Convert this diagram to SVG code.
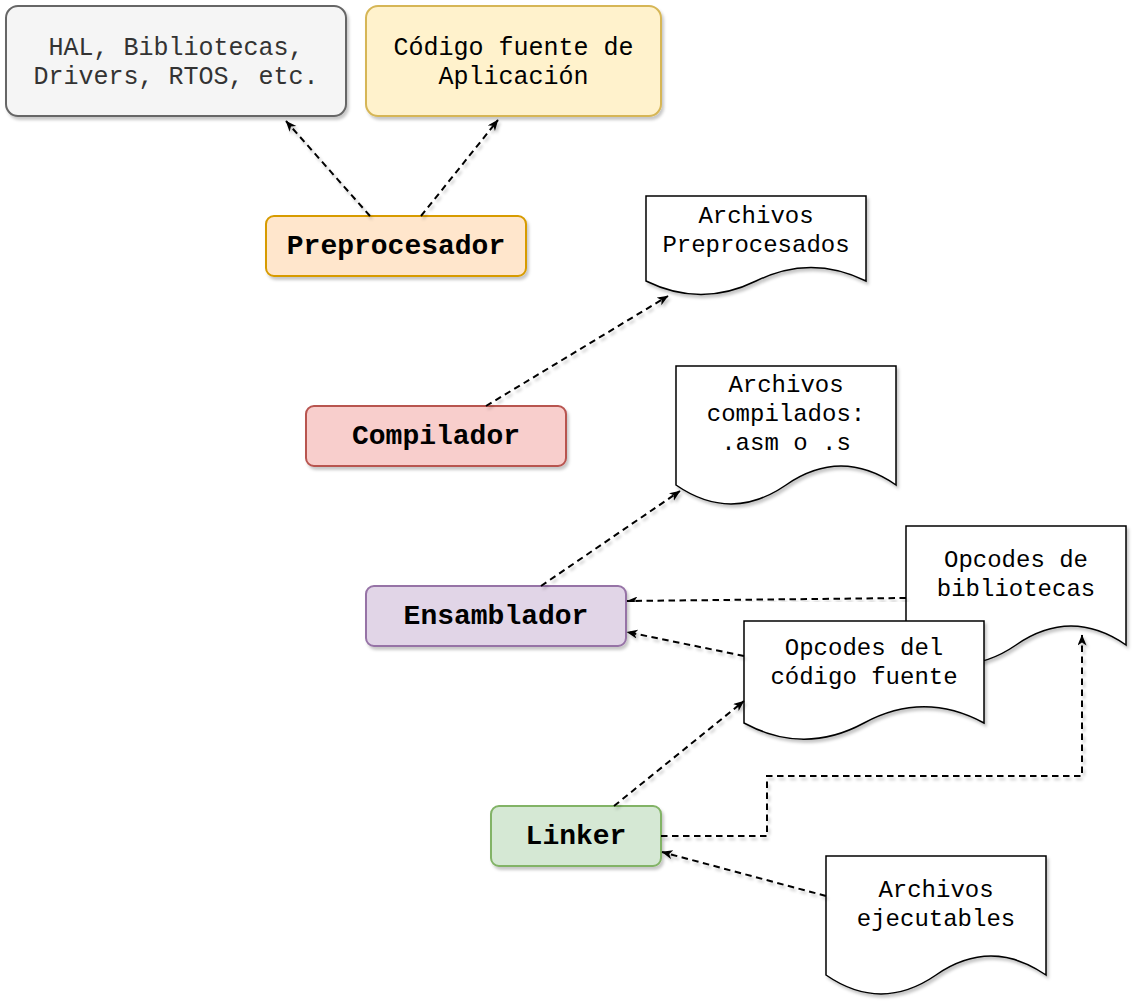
<svg xmlns="http://www.w3.org/2000/svg" width="1138" height="1008" viewBox="0 0 1138 1008">
<defs>
<filter id="sh" x="-10%" y="-10%" width="130%" height="140%">
<feDropShadow dx="2" dy="3" stdDeviation="1.6" flood-color="#000" flood-opacity="0.22"/>
</filter>
<marker id="arr" markerUnits="userSpaceOnUse" markerWidth="12" markerHeight="10" refX="10.5" refY="4.5" orient="auto">
<path d="M0,0 L11,4.5 L0,9 L3,4.5 Z" fill="#000"/>
</marker>
</defs>
<style>
.box{stroke-width:2;filter:url(#sh)}
.doc{fill:#fff;stroke:#000;stroke-width:1.5;filter:url(#sh)}
.t{font-family:"Liberation Mono","Courier New",monospace;font-size:24px;text-anchor:middle;fill:#000}
.tt{font-family:"Liberation Mono","Courier New",monospace;font-size:25px;text-anchor:middle}
.b{font-family:"Liberation Mono","Courier New",monospace;font-size:28px;font-weight:bold;text-anchor:middle;fill:#000}
.c{fill:none;stroke:#000;stroke-width:2;stroke-dasharray:6.5 4.5;marker-end:url(#arr);filter:url(#sh)}
</style>
<g id="hal">
<rect class="box" x="6" y="6" width="340" height="110" rx="12" fill="#f5f5f5" stroke="#666666"/>
<text class="tt" fill="#333333" x="176" y="55">HAL, Bibliotecas,</text>
<text class="tt" fill="#333333" x="176" y="84">Drivers, RTOS, etc.</text>
</g>
<g id="codigo">
<rect class="box" x="366" y="6" width="295" height="110" rx="12" fill="#fff2cc" stroke="#d6b656"/>
<text class="tt" fill="#000" x="513.5" y="55">Código fuente de</text>
<text class="tt" fill="#000" x="513.5" y="84">Aplicación</text>
</g>
<g id="preprocesador">
<rect class="box" x="266" y="216" width="260" height="60" rx="8" fill="#ffe6cc" stroke="#d79b00"/>
<text class="b" x="396" y="254">Preprocesador</text>
</g>
<g id="compilador">
<rect class="box" x="306" y="406" width="260" height="60" rx="8" fill="#f8cecc" stroke="#b85450"/>
<text class="b" x="436" y="444">Compilador</text>
</g>
<g id="ensamblador">
<rect class="box" x="366" y="586" width="260" height="60" rx="8" fill="#e1d5e7" stroke="#9673a6"/>
<text class="b" x="496" y="624">Ensamblador</text>
</g>
<g id="linker">
<rect class="box" x="491" y="806" width="170" height="60" rx="8" fill="#d5e8d4" stroke="#82b366"/>
<text class="b" x="576" y="844">Linker</text>
</g>
<g id="doc-preprocesados">
<path class="doc" d="M646,196 L866,196 L866,281 Q811,254 756,281 Q701,308 646,281 Z"/>
<text class="t" x="756" y="223">Archivos</text>
<text class="t" x="756" y="252">Preprocesados</text>
</g>
<g id="doc-compilados">
<path class="doc" d="M676,366 L896,366 L896,485 Q841,447.2 786,485 Q731,522.8 676,485 Z"/>
<text class="t" x="786" y="392">Archivos</text>
<text class="t" x="786" y="421">compilados:</text>
<text class="t" x="786" y="450">.asm o .s</text>
</g>
<g id="doc-bibliotecas">
<path class="doc" d="M906,526 L1126,526 L1126,645 Q1071,607.2 1016,645 Q961,682.8 906,645 Z"/>
<text class="t" x="1016" y="567">Opcodes de</text>
<text class="t" x="1016" y="596">bibliotecas</text>
</g>
<g id="doc-codigo">
<path class="doc" d="M744,621 L984,621 L984,723 Q924,690.6 864,723 Q804,755.4 744,723 Z"/>
<text class="t" x="864" y="655">Opcodes del</text>
<text class="t" x="864" y="684">código fuente</text>
</g>
<g id="doc-ejecutables">
<path class="doc" d="M826,856 L1046,856 L1046,975 Q991,937.2 936,975 Q881,1012.8 826,975 Z"/>
<text class="t" x="936" y="897">Archivos</text>
<text class="t" x="936" y="926">ejecutables</text>
</g>
<g id="connectors">
<path class="c" d="M370,216 L286,121"/>
<path class="c" d="M421,216 L498,120"/>
<path class="c" d="M646,246 L527,246"/>
<path class="c" d="M486,406 L668,296"/>
<path class="c" d="M676,436 L567,436"/>
<path class="c" d="M541,586 L680,491"/>
<path class="c" d="M906,598 L627,601"/>
<path class="c" d="M744,656 L627,632"/>
<path class="c" d="M614,806 L744,701"/>
<path class="c" d="M661,836 L767,836 L767,776 L1082,776 L1082,635"/>
<path class="c" d="M826,896 L662,852"/>
</g>
</svg>
